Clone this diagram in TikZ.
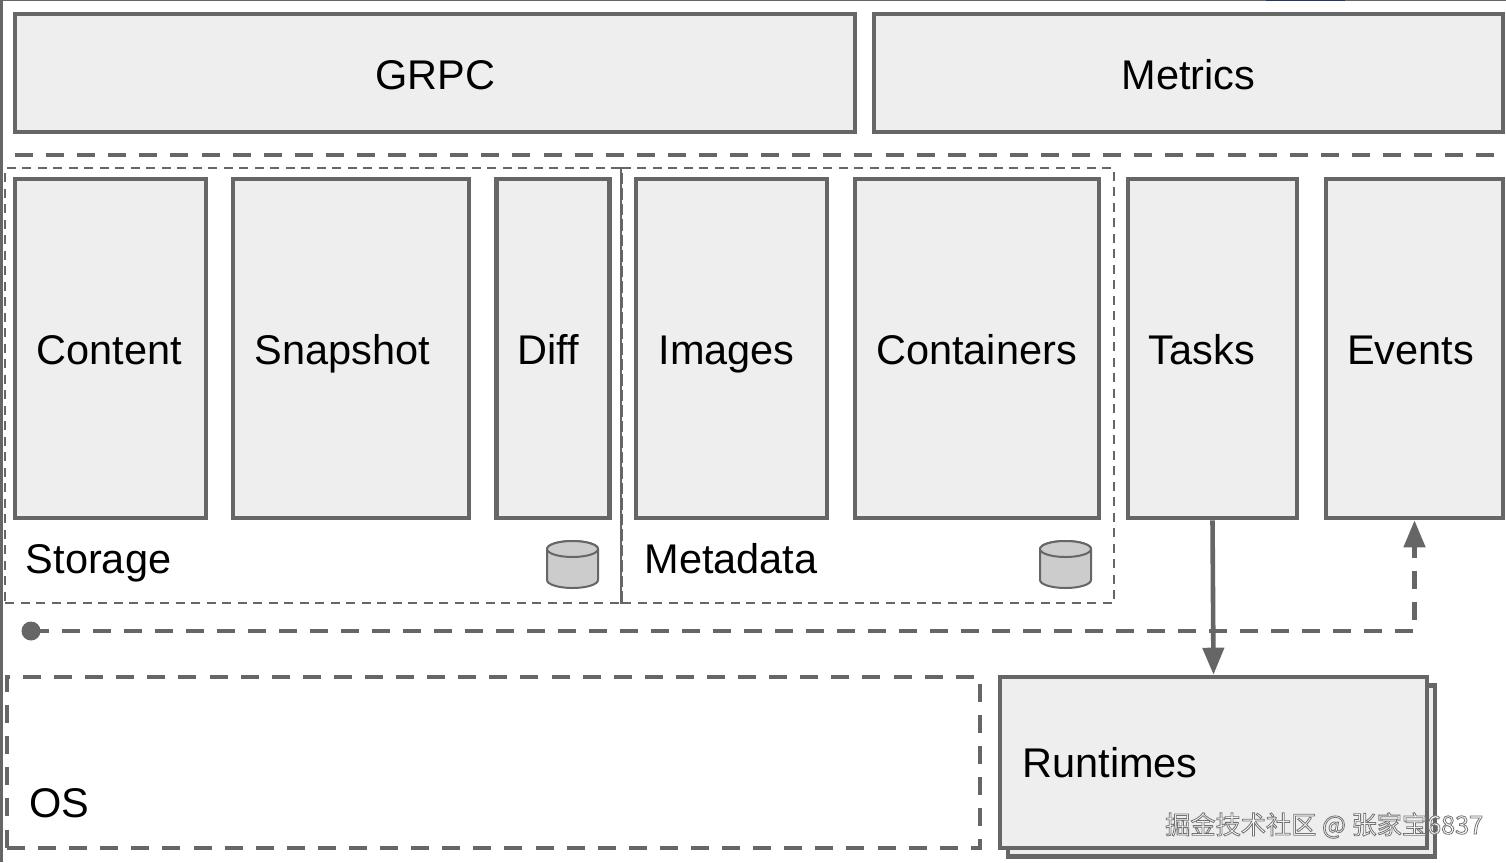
\documentclass[tikz,border=0pt]{standalone}
\usepackage{fontspec}
\setmainfont{Liberation Sans}
\newfontfamily\cjkwm{Noto Sans CJK SC}
\usetikzlibrary{arrows.meta}
\definecolor{ln}{HTML}{666666}
\definecolor{bx}{HTML}{EEEEEE}
\definecolor{cy}{HTML}{CCCCCC}
\definecolor{navy}{HTML}{1B3A6B}
\tikzset{
  boxn/.style={draw=ln,fill=bx,line width=4.6pt,minimum width=#1,minimum height=339pt,inner sep=0pt,outer sep=2.3pt},
  lbl/.style={anchor=base,font=\fontsize{41.5}{46}\selectfont,text=black,inner sep=0pt},
  widedash/.style={draw=ln,line width=4.6pt,dash pattern=on 18pt off 13.09pt},
  thindash/.style={draw=ln,line width=2pt,dash pattern=on 9pt off 6.5pt},
  arrowtip/.style={-{Triangle[length=27pt,width=21pt]}},
  cyl/.style={draw=ln,fill=cy,line width=2pt}
}
\begin{document}
\begin{tikzpicture}[x=1pt,y=-1pt]
\useasboundingbox (0,0) rectangle (1506,862);
\fill[white] (0,0) rectangle (1506,862);
% screenshot edges
\fill[ln] (0,0) rectangle (3,862);
\fill[ln] (0,0) rectangle (1506,1.2);
\fill[navy] (1266,0) rectangle (1345,1.2);
% top row
\node[boxn=840pt,minimum height=118pt] (grpc) at (435,73) {};
\node[boxn=629pt,minimum height=118pt] (metrics) at (1188.5,73) {};
\node[lbl] (tgrpc) at (435.3,89) {GRPC};
\node[lbl] (tmetrics) at (1188.5,89) {Metrics};
\draw[widedash] (15,155) -- (1494,155);
% dashed groups
\node[thindash,minimum width=617pt,minimum height=435pt,inner sep=0pt] (storage) at (313.5,385.5) {};
\node[thindash,minimum width=492pt,minimum height=435pt,inner sep=0pt] (metadata) at (868,385.5) {};
\draw[ln,line width=2pt] (metadata.north west) -- (metadata.south west);
% service boxes
\node[boxn=191pt] (content) at (110.5,348.5) {};
\node[boxn=236pt] (snapshot) at (351,348.5) {};
\node[boxn=113pt] (diff) at (553,348.5) {};
\node[boxn=191pt] (images) at (731.5,348.5) {};
\node[boxn=244pt] (containers) at (977,348.5) {};
\node[boxn=169pt] (tasks) at (1212.5,348.5) {};
\node[boxn=177pt] (events) at (1414.5,348.5) {};
\node[lbl] (tcontent) at (109.5,364) {Content};
\node[lbl] (tsnapshot) at (342.5,364) {Snapshot};
\node[lbl] (tdiff) at (548.5,364) {Diff};
\node[lbl] (timages) at (726.5,364) {Images};
\node[lbl] (tcontainers) at (976.5,364) {Containers};
\node[lbl] (ttasks) at (1202,364) {Tasks};
\node[lbl] (tevents) at (1410.5,364) {Events};
\node[lbl] (tstorage) at (98.5,573) {Storage};
\node[lbl] (tmetadata) at (731,573) {Metadata};
% cylinders
\foreach \cx in {572.5,1065.5}{
  \draw[cyl] (\cx-25.5,549) -- (\cx-25.5,580) arc[start angle=180,end angle=360,x radius=25.5pt,y radius=8pt] -- (\cx+25.5,549) arc[start angle=0,end angle=180,x radius=25.5pt,y radius=8pt] -- cycle;
  \draw[cyl] (\cx,549) ellipse[x radius=25.5pt,y radius=8pt];
}
% OS
\node[widedash,minimum width=973pt,minimum height=171pt,inner sep=0pt] (os) at (493.5,762.5) {};
\node[lbl] (tos) at (59,817) {OS};
% runtimes
\node[boxn=427pt,minimum height=171pt] (runtimesback) at (1221.5,771) {};
\node[boxn=427pt,minimum height=171pt] (runtimes) at (1213.5,762.5) {};
\node[lbl] (truntimes) at (1110,777) {Runtimes};
% connectors
\node[circle,fill=ln,minimum size=19pt,inner sep=0pt] (dot) at (31,631) {};
\draw[ln,line width=4.6pt,dash pattern=on 18pt off 13pt,arrowtip] (dot.center) -| (events.south);
\draw[ln,line width=4.6pt,arrowtip] (tasks.south) -- (runtimes.north);
% watermark
\node[anchor=base west,inner sep=0pt,font=\cjkwm\fontsize{25.2}{28}\selectfont,text=white] (wm) at (1165,834) {\special{pdf:code 2 Tr 0.45 G 0.8 w}掘金技术社区 @ 张家宝6837\special{pdf:code 0 Tr}};
\end{tikzpicture}
\end{document}
